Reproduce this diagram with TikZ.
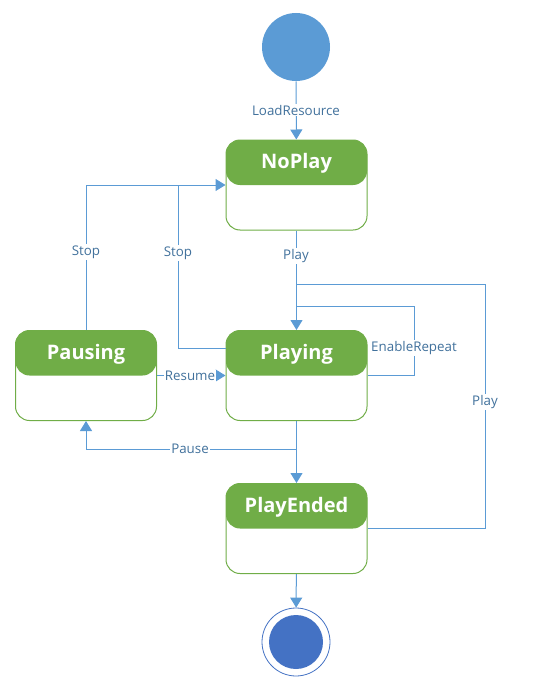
\documentclass[tikz,border=0pt]{standalone}
\usepackage{fontspec}
\setmainfont{Open Sans}
\usetikzlibrary{arrows.meta}
\definecolor{stategreen}{HTML}{70AD47}
\definecolor{linkblue}{HTML}{5B9BD5}
\definecolor{endblue}{HTML}{4472C4}
\definecolor{labelblue}{HTML}{41719C}
\begin{document}
\begin{tikzpicture}[x=0.75pt,y=-0.75pt,line width=0.75pt]
        \tikzstyle{state}=[draw=stategreen,fill=white,rounded corners=10.5pt,
            minimum width=105.75pt,minimum height=67.5pt,inner sep=0pt,
            path picture={\fill[stategreen] (path picture bounding box.north west)
                rectangle (path picture bounding box.east);}]
        \tikzstyle{title}=[text=white,font=\bfseries\fontsize{15}{17}\selectfont]
        \tikzstyle{guard}=[fill=white,inner sep=1pt,text=labelblue,font=\fontsize{10}{12}\selectfont]
        \tikzstyle{link}=[draw=linkblue]
        \tikzstyle{tip}=[-{Triangle[width=9pt,length=7.5pt]}]

        \useasboundingbox (0,0) rectangle (558,692);

        \node[circle,fill=linkblue,minimum size=51pt,inner sep=0pt](start) at (296,47){};

        \node[state](noplay) at (296.5,185){};
        \node[title](noplayt) at (296.5,163){NoPlay};
        \node[state](pausing) at (86,375.5){};
        \node[title](pausingt) at (86,354){Pausing};
        \node[state](playing) at (296.5,375.5){};
        \node[title](playingt) at (296.5,354){Playing};
        \node[state](playended) at (296.5,528.5){};
        \node[title](playendedt) at (296.5,507){PlayEnded};

        \node[circle,draw=endblue,line width=0.6pt,fill=white,minimum size=51pt,inner sep=0pt](stop) at (296,642){};
        \node[circle,fill=endblue,minimum size=40.5pt,inner sep=0pt](stopdot) at (296,642){};

        \draw[link,tip] (start) -- (noplay);
        \draw[link,tip] (noplay) -- (playing);
        \draw[link,tip] (pausing.north) |- (noplay.west);
        \draw[link] ([yshift=20.6pt]playing.west) -| (178,185);
        \draw[link] (playing.east) -| (414,306) -- (296.5,306);
        \draw[link] (playended.east) -| (485,284) -- (296.5,284);
        \draw[link,tip] (pausing.east) -- (playing.west);
        \draw[link,tip] (playing.south) |- (86,449) -- (pausing.south);
        \draw[link,tip] (playing) -- (playended);
        \draw[link,tip] (playended) -- (stop);

        \node[guard](load) at (296,110){LoadResource};
        \node[guard](play1) at (296,256){Play};
        \node[guard](stop1) at (86,252){Stop};
        \node[guard](stop2) at (178,253){Stop};
        \node[guard](repeat) at (414,348){EnableRepeat};
        \node[guard](resume) at (190,376){Resume};
        \node[guard](pause) at (190,449){Pause};
        \node[guard](play2) at (485,402){Play};
    \end{tikzpicture}
\end{document}
